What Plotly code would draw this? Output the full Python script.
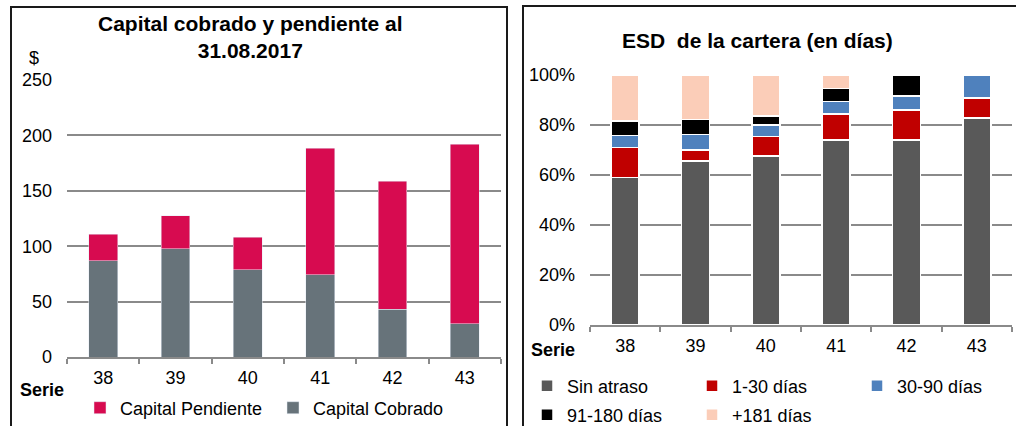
import plotly.graph_objects as go

W, H = 1016, 426

series = ['38', '39', '40', '41', '42', '43']

# Capital cobrado y pendiente ($)
capital_cobrado = [87.0, 97.6, 78.6, 74.1, 43.1, 30.1]
capital_pendiente = [23.8, 30.1, 29.5, 114.2, 115.6, 162.1]

# ESD de la cartera (%)
sin_atraso = [59.1, 65.7, 67.6, 74.0, 74.0, 82.9]
dias_1_30 = [12.0, 4.3, 7.9, 10.4, 12.0, 7.9]
dias_30_90 = [4.8, 6.3, 4.5, 5.1, 5.6, 9.2]
dias_91_180 = [5.7, 6.0, 3.6, 5.2, 8.4, 0.0]
dias_181 = [18.4, 17.7, 16.4, 5.3, 0.0, 0.0]

FONT = 'Liberation Sans, Arial, sans-serif'
GRID = '#8a8a8a'


def px_x(v):
    return v / W


def px_y(v):
    return 1 - v / H


fig = go.Figure()

# left chart
fig.add_trace(go.Bar(x=series, y=capital_cobrado, name='Capital Cobrado',
                     marker_color='#67737A', xaxis='x', yaxis='y', legend='legend'))
fig.add_trace(go.Bar(x=series, y=capital_pendiente, name='Capital Pendiente',
                     marker_color='#D70B50', xaxis='x', yaxis='y', legend='legend'))

# right chart
esd = [
    ('Sin atraso', sin_atraso, '#595959', 'legend2'),
    ('1-30 días', dias_1_30, '#C00000', 'legend2'),
    ('30-90 días', dias_30_90, '#4F81BD', 'legend2'),
    ('91-180 días', dias_91_180, '#000000', 'legend3'),
    ('+181 días', dias_181, '#FBCDB8', 'legend3'),
]
for name, vals, color, leg in esd:
    fig.add_trace(go.Bar(
        x=series, y=vals, name=name,
        marker=dict(color=color, line=dict(color='white', width=1.5)),
        xaxis='x2', yaxis='y2', legend=leg
    ))

axis_common = dict(
    type='category', showline=True, linecolor=GRID, linewidth=1.5,
    ticks='outside', tickson='boundaries', ticklen=5, tickcolor=GRID, tickwidth=1.5,
    showgrid=False, tickfont=dict(size=18), ticklabelstandoff=4, fixedrange=True
)
yaxis_common = dict(
    showgrid=True, gridcolor=GRID, gridwidth=1.5, zeroline=False, showline=False,
    tickfont=dict(size=18), ticklabelstandoff=14, fixedrange=True
)

legend_common = dict(orientation='h', yanchor='middle', xanchor='left',
                     font=dict(size=18), bgcolor='rgba(0,0,0,0)',
                     itemclick=False, itemdoubleclick=False)

fig.update_layout(
    width=W, height=H,
    margin=dict(l=0, r=0, t=0, b=0, autoexpand=False),
    plot_bgcolor='white', paper_bgcolor='white',
    font=dict(family=FONT, color='black', size=18),
    barmode='stack',
    bargap=0.6,
    xaxis=dict(domain=[px_x(67), px_x(501)], anchor='y', **axis_common),
    yaxis=dict(domain=[px_y(357), px_y(80)], anchor='x', range=[0, 250], dtick=50,
               **yaxis_common),
    xaxis2=dict(domain=[px_x(590), px_x(1012)], anchor='y2', **axis_common),
    yaxis2=dict(domain=[px_y(325), px_y(75)], anchor='x2', range=[0, 100], dtick=20,
                ticksuffix='%', **yaxis_common),
    legend=dict(x=px_x(80), y=px_y(408), entrywidth=148, traceorder='reversed',
                **legend_common),
    legend2=dict(x=px_x(527), y=px_y(386), entrywidth=120, traceorder='normal',
                 **legend_common),
    legend3=dict(x=px_x(527), y=px_y(415), entrywidth=120, traceorder='normal',
                 **legend_common),
    showlegend=True,
)

annotations = [
    dict(text='<b>Capital cobrado y pendiente al<br>31.08.2017</b>', x=px_x(250), y=px_y(37),
         font=dict(size=21)),
    dict(text='<b>ESD  de la cartera (en días)</b>', x=px_x(757), y=px_y(40),
         font=dict(size=21)),
    dict(text='$', x=px_x(34), y=px_y(58), font=dict(size=18)),
    dict(text='<b>Serie</b>', x=px_x(42), y=px_y(390), font=dict(size=18)),
    dict(text='<b>Serie</b>', x=px_x(553), y=px_y(350), font=dict(size=18)),
]
for a in annotations:
    fig.add_annotation(xref='paper', yref='paper', showarrow=False,
                       xanchor='center', yanchor='middle', **a)

# panel frames
fig.add_shape(type='rect', xref='paper', yref='paper',
              x0=px_x(11), x1=px_x(507), y0=-0.1, y1=px_y(7),
              line=dict(color='#1a1a1a', width=2), layer='below')
fig.add_shape(type='rect', xref='paper', yref='paper',
              x0=px_x(523), x1=1.1, y0=-0.1, y1=px_y(6),
              line=dict(color='#1a1a1a', width=2), layer='below')

# the page body has a default 8px margin; drop it so the figure fills the window
fig.write_html("out.html",
               config={'displayModeBar': False},
               post_script="document.body.style.margin='0';document.body.style.overflow='hidden';")
